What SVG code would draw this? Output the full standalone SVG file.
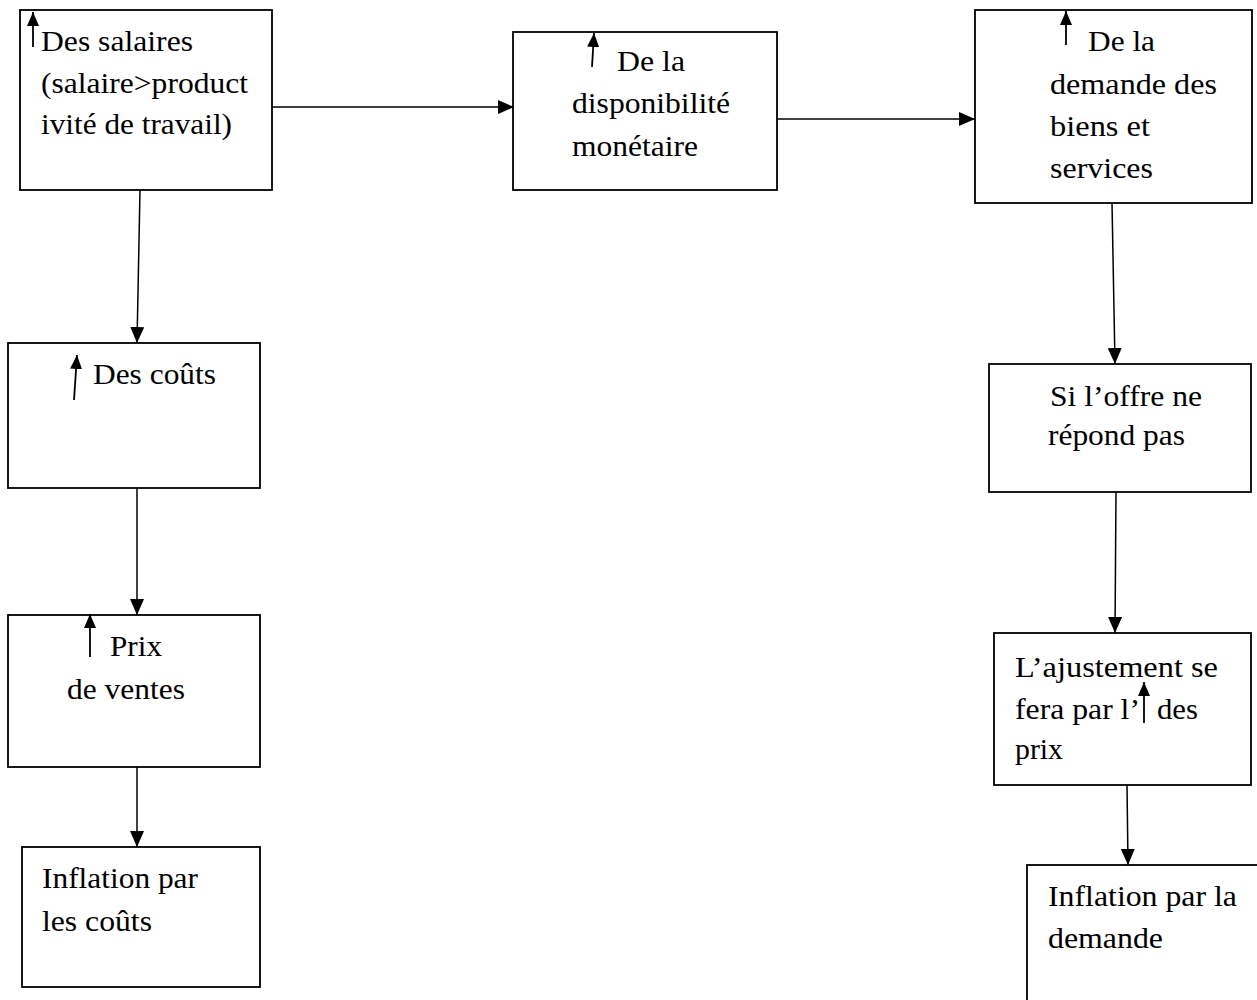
<svg xmlns="http://www.w3.org/2000/svg" width="1257" height="1000" viewBox="0 0 1257 1000">
<style>
.box{fill:#fff;stroke:#000;stroke-width:1.8}
.t{font-family:"Liberation Serif","Times New Roman",serif;font-size:29px;fill:#000}
.c{stroke:#000;stroke-width:1.5;fill:none;marker-end:url(#ah)}
.up{stroke:#000;stroke-width:1.8;fill:none;marker-end:url(#uh)}
</style>
<defs>
<marker id="ah" markerUnits="userSpaceOnUse" markerWidth="16" markerHeight="14" refX="16" refY="7" orient="auto">
<path d="M0,0 L16,7 L0,14 z" fill="#000"/>
</marker>
<marker id="uh" markerUnits="userSpaceOnUse" markerWidth="14" markerHeight="12" refX="14" refY="6" orient="auto">
<path d="M0,0 L14,6 L0,12 z" fill="#000"/>
</marker>
</defs>
<rect width="1257" height="1000" fill="#fff"/>
<g id="connectors">
<line class="c" x1="272" y1="107" x2="514" y2="107"/>
<line class="c" x1="777" y1="119" x2="975" y2="119"/>
<line class="c" x1="140" y1="190" x2="137" y2="343"/>
<line class="c" x1="137" y1="488" x2="137" y2="615"/>
<line class="c" x1="137" y1="767" x2="137" y2="847"/>
<line class="c" x1="1112" y1="203" x2="1115" y2="364"/>
<line class="c" x1="1116" y1="492" x2="1115" y2="633"/>
<line class="c" x1="1127" y1="785" x2="1128" y2="865"/>
</g>
<g id="n1">
<rect class="box" x="20" y="10" width="252" height="180"/>
<line class="up" x1="33" y1="47" x2="33" y2="12"/>
<text class="t" x="41" y="51" textLength="152" lengthAdjust="spacingAndGlyphs">Des salaires</text>
<text class="t" x="41" y="93" textLength="207" lengthAdjust="spacingAndGlyphs">(salaire&gt;product</text>
<text class="t" x="41" y="134" textLength="191" lengthAdjust="spacingAndGlyphs">ivité de travail)</text>
</g>
<g id="n2">
<rect class="box" x="513" y="32" width="264" height="158"/>
<line class="up" x1="592" y1="67" x2="594" y2="33"/>
<text class="t" x="617" y="71" textLength="68" lengthAdjust="spacingAndGlyphs">De la</text>
<text class="t" x="572" y="113" textLength="158" lengthAdjust="spacingAndGlyphs">disponibilité</text>
<text class="t" x="572" y="156" textLength="126" lengthAdjust="spacingAndGlyphs">monétaire</text>
</g>
<g id="n3">
<rect class="box" x="975" y="10" width="277" height="193"/>
<line class="up" x1="1066" y1="45" x2="1066" y2="11"/>
<text class="t" x="1088" y="51" textLength="67" lengthAdjust="spacingAndGlyphs">De la</text>
<text class="t" x="1050" y="94" textLength="167" lengthAdjust="spacingAndGlyphs">demande des</text>
<text class="t" x="1050" y="136" textLength="100" lengthAdjust="spacingAndGlyphs">biens et</text>
<text class="t" x="1050" y="178" textLength="103" lengthAdjust="spacingAndGlyphs">services</text>
</g>
<g id="n4">
<rect class="box" x="8" y="343" width="252" height="145"/>
<line class="up" x1="74" y1="400" x2="77" y2="355"/>
<text class="t" x="93" y="384" textLength="123" lengthAdjust="spacingAndGlyphs">Des coûts</text>
</g>
<g id="n5">
<rect class="box" x="8" y="615" width="252" height="152"/>
<line class="up" x1="90" y1="657" x2="90" y2="614"/>
<text class="t" x="110" y="656" textLength="52" lengthAdjust="spacingAndGlyphs">Prix</text>
<text class="t" x="67" y="699" textLength="118" lengthAdjust="spacingAndGlyphs">de ventes</text>
</g>
<g id="n6">
<rect class="box" x="22" y="847" width="238" height="140"/>
<text class="t" x="42" y="888" textLength="156" lengthAdjust="spacingAndGlyphs">Inflation par</text>
<text class="t" x="42" y="931" textLength="110" lengthAdjust="spacingAndGlyphs">les coûts</text>
</g>
<g id="n7">
<rect class="box" x="989" y="364" width="262" height="128"/>
<text class="t" x="1050" y="406" textLength="152" lengthAdjust="spacingAndGlyphs">Si l’offre ne</text>
<text class="t" x="1048" y="445" textLength="137" lengthAdjust="spacingAndGlyphs">répond pas</text>
</g>
<g id="n8">
<rect class="box" x="994" y="633" width="257" height="152"/>
<text class="t" x="1015" y="677" textLength="203" lengthAdjust="spacingAndGlyphs">L’ajustement se</text>
<text class="t" x="1015" y="719" textLength="125" lengthAdjust="spacingAndGlyphs">fera par l’</text>
<line class="up" x1="1144" y1="723" x2="1144" y2="682"/>
<text class="t" x="1157" y="719" textLength="41" lengthAdjust="spacingAndGlyphs">des</text>
<text class="t" x="1015" y="759" textLength="48" lengthAdjust="spacingAndGlyphs">prix</text>
</g>
<g id="n9">
<rect class="box" x="1027" y="865" width="260" height="160"/>
<text class="t" x="1048" y="906" textLength="189" lengthAdjust="spacingAndGlyphs">Inflation par la</text>
<text class="t" x="1048" y="948" textLength="115" lengthAdjust="spacingAndGlyphs">demande</text>
</g>
</svg>
